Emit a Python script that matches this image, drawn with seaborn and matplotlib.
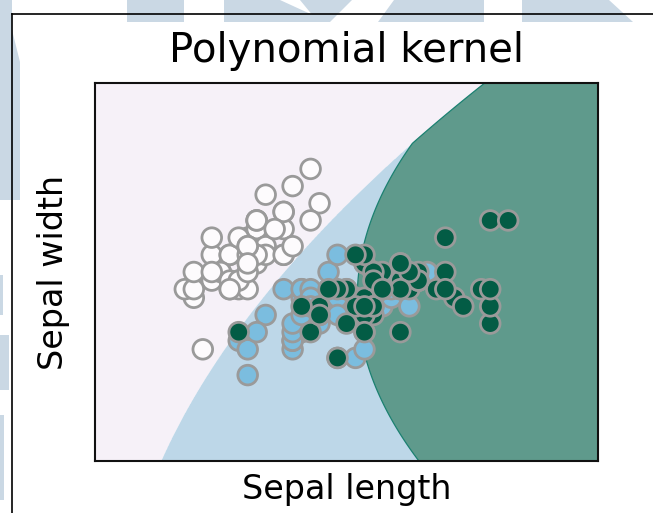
import numpy as np
import pandas as pd
import matplotlib
matplotlib.use("Agg")
import matplotlib.pyplot as plt
from matplotlib.patches import Polygon
from matplotlib.lines import Line2D
import seaborn as sns

# Iris measurements: sepal length / sepal width, by species
setosa_length = [5.1, 4.9, 4.7, 4.6, 5.0, 5.4, 4.6, 5.0, 4.4, 4.9, 5.4, 4.8, 4.8, 4.3, 5.8, 5.7, 5.4,
                 5.1, 5.7, 5.1, 5.4, 5.1, 4.6, 5.1, 4.8, 5.0, 5.0, 5.2, 5.2, 4.7, 4.8, 5.4, 5.2, 5.5,
                 4.9, 5.0, 5.5, 4.9, 4.4, 5.1, 5.0, 4.5, 4.4, 5.0, 5.1, 4.8, 5.1, 4.6, 5.3, 5.0]
setosa_width = [3.5, 3.0, 3.2, 3.1, 3.6, 3.9, 3.4, 3.4, 2.9, 3.1, 3.7, 3.4, 3.0, 3.0, 4.0, 4.4, 3.9,
                3.5, 3.8, 3.8, 3.4, 3.7, 3.6, 3.3, 3.4, 3.0, 3.4, 3.5, 3.4, 3.2, 3.1, 3.4, 4.1, 4.2,
                3.1, 3.2, 3.5, 3.6, 3.0, 3.4, 3.5, 2.3, 3.2, 3.5, 3.8, 3.0, 3.8, 3.2, 3.7, 3.3]
versicolor_length = [7.0, 6.4, 6.9, 5.5, 6.5, 5.7, 6.3, 4.9, 6.6, 5.2, 5.0, 5.9, 6.0, 6.1, 5.6, 6.7,
                     5.6, 5.8, 6.2, 5.6, 5.9, 6.1, 6.3, 6.1, 6.4, 6.6, 6.8, 6.7, 6.0, 5.7, 5.5, 5.5,
                     5.8, 6.0, 5.4, 6.0, 6.7, 6.3, 5.6, 5.5, 5.5, 6.1, 5.8, 5.0, 5.6, 5.7, 5.7, 6.2,
                     5.1, 5.7]
versicolor_width = [3.2, 3.2, 3.1, 2.3, 2.8, 2.8, 3.3, 2.4, 2.9, 2.7, 2.0, 3.0, 2.2, 2.9, 2.9, 3.1,
                    3.0, 2.7, 2.2, 2.5, 3.2, 2.8, 2.5, 2.8, 2.9, 3.0, 2.8, 3.0, 2.9, 2.6, 2.4, 2.4,
                    2.7, 2.7, 3.0, 3.4, 3.1, 2.3, 3.0, 2.5, 2.6, 3.0, 2.6, 2.3, 2.7, 3.0, 2.9, 2.9,
                    2.5, 2.8]
virginica_length = [6.3, 5.8, 7.1, 6.3, 6.5, 7.6, 4.9, 7.3, 6.7, 7.2, 6.5, 6.4, 6.8, 5.7, 5.8, 6.4,
                    6.5, 7.7, 7.7, 6.0, 6.9, 5.6, 7.7, 6.3, 6.7, 7.2, 6.2, 6.1, 6.4, 7.2, 7.4, 7.9,
                    6.4, 6.3, 6.1, 7.7, 6.3, 6.4, 6.0, 6.9, 6.7, 6.9, 5.8, 6.8, 6.7, 6.7, 6.3, 6.5,
                    6.2, 5.9]
virginica_width = [3.3, 2.7, 3.0, 2.9, 3.0, 3.0, 2.5, 2.9, 2.5, 3.6, 3.2, 2.7, 3.0, 2.5, 2.8, 3.2,
                   3.0, 3.8, 2.6, 2.2, 3.2, 2.8, 2.8, 2.7, 3.3, 3.2, 2.8, 3.0, 2.8, 3.0, 2.8, 3.8,
                   2.8, 2.8, 2.6, 3.0, 3.4, 3.1, 3.0, 3.1, 3.1, 3.1, 2.7, 3.2, 3.3, 3.0, 2.5, 3.0,
                   3.4, 3.0]
species_names = ["setosa", "versicolor", "virginica"]

# Fitted decision boundaries of the degree-3 polynomial-kernel classifier,
# written as sepal length = f(sepal width)
setosa_boundary = [3.70, 0.25, 0.0888]        # a + b*w + c*w^2
virginica_boundary = [6.22, 0.19, 2.9]        # x0 + k*(w - w0)^2

region_colors = ["#f6f1f8", "#bdd7e8", "#5f9a8c"]
point_colors = ["#fdfbfd", "#7bbddf", "#035c45"]

df = pd.DataFrame({
    "Sepal length": setosa_length + versicolor_length + virginica_length,
    "Sepal width": setosa_width + versicolor_width + virginica_width,
    "species": [species_names[0]] * 50 + [species_names[1]] * 50 + [species_names[2]] * 50,
})

x_min, x_max = df["Sepal length"].min() - 1, df["Sepal length"].max() + 1
y_min, y_max = df["Sepal width"].min() - 1, df["Sepal width"].max() + 1

W, H, DPI = 653, 513, 100
fig = plt.figure(figsize=(W / DPI, H / DPI), dpi=DPI)
fig.patch.set_facecolor("white")

# page furniture behind the figure: faint letter shapes and a frame
wm = "#cad8e4"
shapes_px = [
    [(0, 0), (12, 0), (12, 30), (20, 62), (20, 200), (0, 200)],
    [(0, 275), (3, 275), (3, 315), (0, 315)],
    [(0, 335), (9, 335), (9, 390), (0, 390)],
    [(0, 415), (4, 415), (4, 500), (0, 500)],
    [(127, 0), (184, 0), (184, 22), (127, 22)],
    [(224, 0), (280, 0), (328, 22), (224, 22)],
    [(300, 0), (352, 0), (330, 22), (318, 22)],
    [(394, 0), (484, 0), (484, 22), (378, 22)],
    [(522, 0), (609, 0), (633, 22), (522, 22)],
]
for pts in shapes_px:
    fig.patches.append(Polygon([(px / W, 1 - py / H) for px, py in pts], closed=True,
                               transform=fig.transFigure, facecolor=wm, edgecolor="none",
                               zorder=0))
fig.add_artist(Line2D([12 / W, 12 / W], [0, 1 - 14 / H], color="black", lw=1.2,
                      transform=fig.transFigure))
fig.add_artist(Line2D([12 / W, 1], [1 - 14 / H, 1 - 14 / H], color="black", lw=1.2,
                      transform=fig.transFigure))

ax = fig.add_axes([95 / W, 52 / H, 503 / W, 378 / H])

# decision regions on a fine grid
xx, yy = np.meshgrid(np.arange(x_min, x_max, 0.004), np.arange(y_min, y_max, 0.004))
a, b, c = setosa_boundary
f_setosa = a + b * yy + c * yy ** 2
x0, k, w0 = virginica_boundary
f_virginica = x0 + k * (yy - w0) ** 2
Z = np.where(xx < f_setosa, 0, np.where(xx > f_virginica, 2, 1))
ax.contourf(xx, yy, Z, levels=[-0.5, 0.5, 1.5, 2.5], colors=region_colors, antialiased=True)
ax.contour(xx, yy, xx - np.maximum(f_setosa, f_virginica), levels=[0],
           colors="#1a8070", linewidths=0.9)

sns.scatterplot(data=df, x="Sepal length", y="Sepal width", hue="species",
                palette=point_colors, s=200, edgecolor="#9a9a9a", linewidth=2.0,
                legend=False, ax=ax, zorder=3)

ax.set_xlim(x_min, x_max)
ax.set_ylim(y_min, y_max)
ax.set_xticks([])
ax.set_yticks([])
for sp in ax.spines.values():
    sp.set_linewidth(1.5)
    sp.set_color("#111111")
ax.set_title("Polynomial kernel", fontsize=29, pad=15)
ax.set_xlabel("Sepal length", fontsize=24, labelpad=9)
ax.set_ylabel("Sepal width", fontsize=24, labelpad=18)

fig.savefig("out.png", dpi=DPI)
